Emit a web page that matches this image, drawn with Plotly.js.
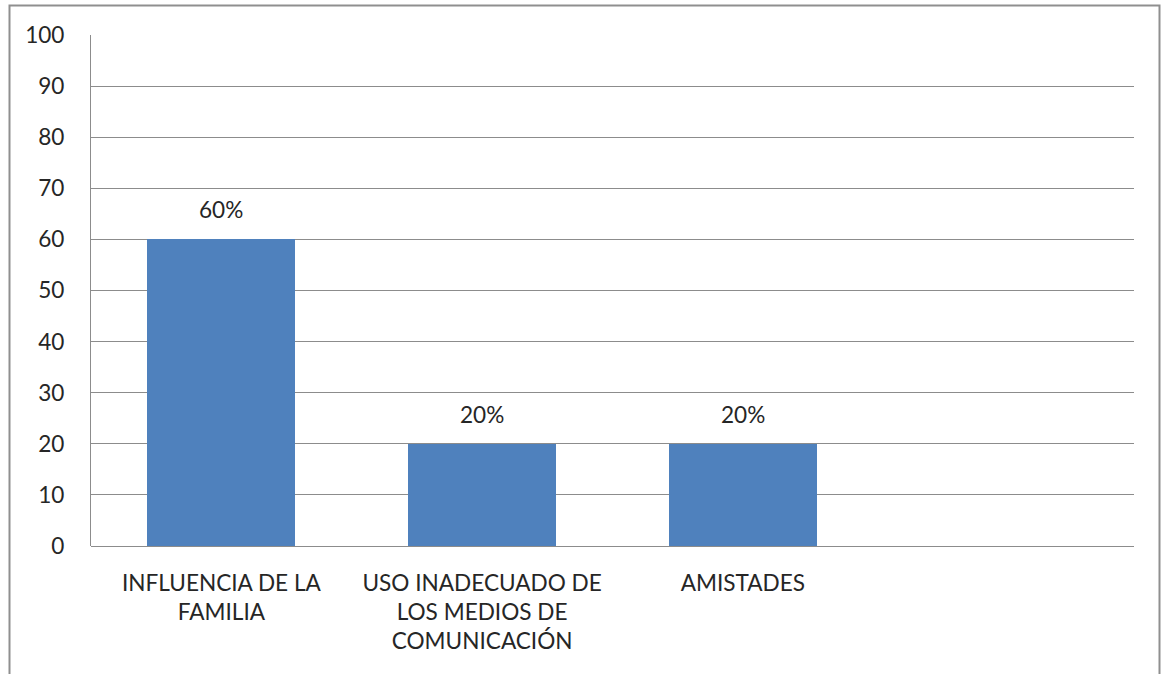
<!DOCTYPE html>
<html>
<head>
<meta charset="utf-8">
<script src="https://cdn.plot.ly/plotly-3.0.1.min.js"></script>
<style>html,body{margin:0;padding:0;background:#fff;overflow:hidden}#chart{width:1162px;height:674px}</style>
</head>
<body>
<div id="chart"></div>
<script>
const categories = ["INFLUENCIA DE LA<br>FAMILIA", "USO INADECUADO DE<br>LOS MEDIOS DE<br>COMUNICACIÓN", "AMISTADES"];
const values = [60, 20, 20];
const valueLabels = ["60%", "20%", "20%"];
const yTicks = [0, 10, 20, 30, 40, 50, 60, 70, 80, 90, 100];

const positions = categories.map((c, i) => i);
const W = 1162, H = 674;
const L = 91, R = 28, T = 35, B = 128;
const pw = W - L - R, ph = H - T - B;
const font = {family: "Lato, 'Open Sans', sans-serif", size: 22.6, color: "#262626"};
const py = (p) => 1 - (p - T) / ph;   // pixel row -> paper coordinate
const px = (p) => (p - L) / pw;       // pixel column -> paper coordinate

const trace = {
  type: "bar",
  x: positions,
  y: values,
  width: 0.567,
  marker: {color: "#4F81BD", line: {width: 0}},
  hoverinfo: "none"
};

const annotations = positions.map((p, i) => ({
  x: p, y: values[i], xref: "x", yref: "y",
  text: valueLabels[i], showarrow: false,
  yanchor: "bottom", yshift: 14, font: font
}));

const layout = {
  width: W, height: H,
  margin: {l: L, r: R, t: T, b: B, pad: 0},
  paper_bgcolor: "#ffffff", plot_bgcolor: "#ffffff",
  showlegend: false,
  font: font,
  bargap: 0,
  xaxis: {
    range: [-0.5, 3.5],
    tickmode: "array", tickvals: positions, ticktext: categories,
    showgrid: false, zeroline: false,
    showline: false, ticks: "", tickfont: font,
    ticklabelstandoff: 21, fixedrange: true
  },
  yaxis: {
    range: [0, 100],
    tickmode: "array", tickvals: yTicks, ticktext: yTicks.map(String),
    showgrid: true, gridcolor: "#8c8c8c", gridwidth: 1,
    zeroline: true, zerolinecolor: "#8c8c8c", zerolinewidth: 1,
    showline: true, linecolor: "#8c8c8c", linewidth: 1,
    ticks: "", tickfont: font, ticklabelstandoff: 21, fixedrange: true
  },
  annotations: annotations,
  shapes: [{
    type: "rect", xref: "paper", yref: "paper",
    x0: px(9.5), x1: px(1159.5),
    y0: py(740), y1: py(5.5),
    line: {color: "#8f8f8f", width: 2}, fillcolor: "rgba(0,0,0,0)", layer: "below"
  }]
};

Plotly.newPlot("chart", [trace], layout, {staticPlot: true, displayModeBar: false});
</script>
</body>
</html>
